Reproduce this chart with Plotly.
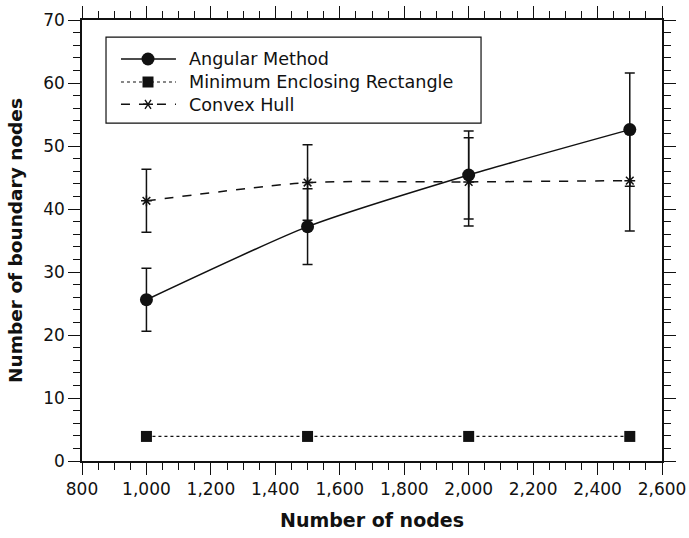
import plotly.graph_objects as go

nodes = [1000, 1500, 2000, 2500]
angular = [25.6, 37.2, 45.4, 52.6]
angular_err = [5.0, 6.0, 7.0, 9.0]
mer = [3.9, 3.9, 3.9, 3.9]
hull = [41.3, 44.2, 44.3, 44.5]
hull_err = [5.0, 6.0, 7.0, 8.0]
series_names = ["Angular Method", "Minimum Enclosing Rectangle", "Convex Hull"]

FONT = "DejaVu Sans"
INK = "#111"

fig = go.Figure()
fig.add_trace(go.Scatter(
    x=nodes, y=angular, name=series_names[0], mode="lines+markers",
    line=dict(color=INK, width=1.5, shape="spline", smoothing=0.6),
    marker=dict(symbol="circle", size=13, color=INK),
    error_y=dict(type="data", array=angular_err, visible=True, color=INK, thickness=1.5, width=5),
))
fig.add_trace(go.Scatter(
    x=nodes, y=mer, name=series_names[1], mode="lines+markers",
    line=dict(color=INK, width=1.2, dash="dot"),
    marker=dict(symbol="square", size=11, color=INK),
))
fig.add_trace(go.Scatter(
    x=nodes, y=hull, name=series_names[2], mode="lines+markers",
    line=dict(color=INK, width=1.5, dash="dash", shape="spline", smoothing=0.6),
    marker=dict(symbol="asterisk-open", size=9, color=INK, line=dict(color=INK, width=1.5)),
    error_y=dict(type="data", array=hull_err, visible=True, color=INK, thickness=1.5, width=5),
))

axis_common = dict(
    showline=True, linecolor=INK, linewidth=1.5, mirror="ticks",
    ticks="outside", ticklen=12, tickwidth=1.2, tickcolor=INK,
    showgrid=False, zeroline=False, automargin=False,
    ticklabeloverflow="allow",
    tickfont=dict(family=FONT, size=17, color=INK),
)

fig.update_xaxes(
    range=[800, 2600], dtick=200, tick0=800, tickformat=",d",
    minor=dict(ticks="outside", dtick=50, ticklen=7, tickwidth=1.2, tickcolor=INK),
    title=dict(text="<b>Number of nodes</b>", font=dict(family=FONT, size=19, color=INK), standoff=16),
    **axis_common,
)
fig.update_yaxes(
    range=[0, 70], dtick=10, tick0=0,
    minor=dict(ticks="outside", dtick=2, ticklen=7, tickwidth=1.2, tickcolor=INK),
    title=dict(text="<b>Number of boundary nodes</b>", font=dict(family=FONT, size=18.5, color=INK), standoff=16),
    **axis_common,
)

# ---- hand-drawn legend box (paper coordinates) ----
box = dict(x0=0.0414, x1=0.688, y0=0.766, y1=0.961)
rows_y = [0.9116, 0.8594, 0.8089]
line_x0, line_x1, mark_x, text_x = 0.0672, 0.162, 0.1138, 0.181
dashes = ["solid", "dot", "dash"]

shapes = [dict(type="rect", xref="paper", yref="paper", layer="above",
               line=dict(color=INK, width=1.2), fillcolor="white", **box)]
for yy, dsh in zip(rows_y, dashes):
    shapes.append(dict(type="line", xref="paper", yref="paper", layer="above",
                       x0=line_x0, x1=line_x1, y0=yy, y1=yy,
                       line=dict(color=INK, width=1.5 if dsh != "dot" else 1.2, dash=dsh)))
shapes.append(dict(type="circle", xref="paper", yref="paper", layer="above",
                   xsizemode="pixel", ysizemode="pixel", xanchor=mark_x, yanchor=rows_y[0],
                   x0=-6.5, x1=6.5, y0=-6.5, y1=6.5, fillcolor=INK, line=dict(color=INK, width=0)))
shapes.append(dict(type="rect", xref="paper", yref="paper", layer="above",
                   xsizemode="pixel", ysizemode="pixel", xanchor=mark_x, yanchor=rows_y[1],
                   x0=-5.5, x1=5.5, y0=-5.5, y1=5.5, fillcolor=INK, line=dict(color=INK, width=0)))
shapes.append(dict(type="path", xref="paper", yref="paper", layer="above",
                   xsizemode="pixel", ysizemode="pixel", xanchor=mark_x, yanchor=rows_y[2],
                   path="M-5,0 L5,0 M-3,-4.5 L3,4.5 M-3,4.5 L3,-4.5",
                   line=dict(color=INK, width=1.4)))

annotations = [dict(xref="paper", yref="paper", x=text_x, y=rows_y[1],
                    text="<br>".join(series_names), showarrow=False,
                    xanchor="left", yanchor="middle", align="left",
                    font=dict(family=FONT, size=17.6, color=INK))]

fig.update_layout(
    width=689, height=538,
    margin=dict(l=82, r=27, t=20, b=77, autoexpand=False),
    paper_bgcolor="white", plot_bgcolor="white",
    font=dict(family=FONT, size=17, color=INK),
    showlegend=False,
    shapes=shapes,
    annotations=annotations,
)

fig.write_html("out.html", config={"displayModeBar": False},
               post_script="document.body.style.margin='0';")
